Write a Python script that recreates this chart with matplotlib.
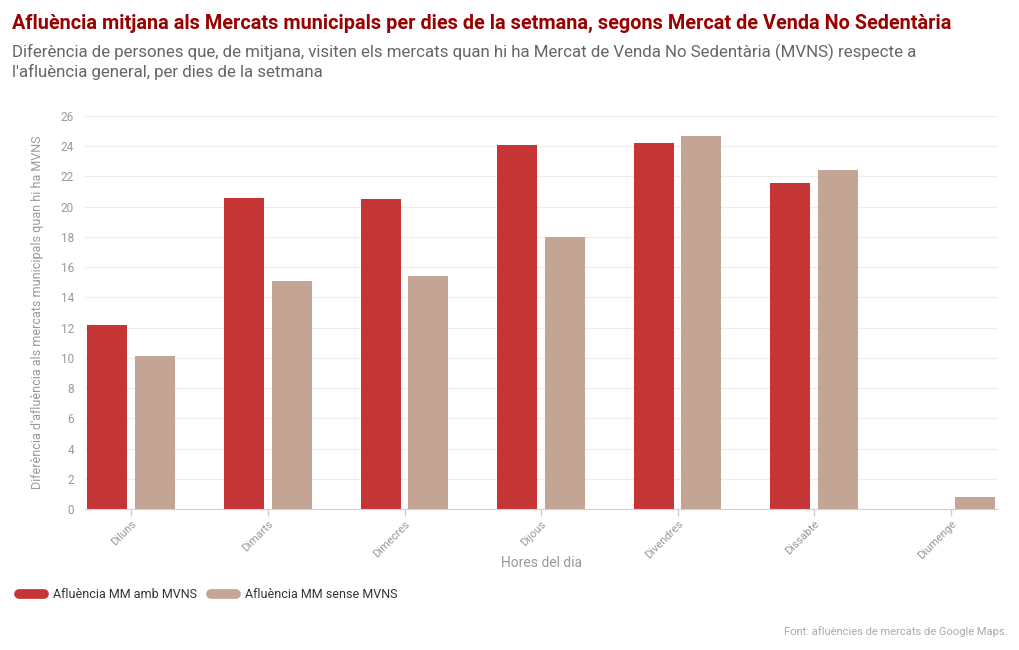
import numpy as np
import matplotlib.pyplot as plt
from matplotlib.lines import Line2D

dies = ['Diluns', 'Dimarts', 'Dimecres', 'Dijous', 'Divendres', 'Dissabte', 'Diumenge']
amb_mvns = [12.2, 20.6, 20.5, 24.1, 24.2, 21.6, 0.0]
sense_mvns = [10.1, 15.1, 15.4, 18.0, 24.7, 22.4, 0.8]

red = '#c63535'
tan = '#c3a495'

plt.rcParams['font.family'] = ['Roboto', 'DejaVu Sans']

fig = plt.figure(figsize=(10.2, 6.5), dpi=100)
ax = fig.add_axes([0.0833, 0.2169, 0.8947, 0.6046])

x = np.arange(len(dies))
w = 0.293
ax.bar(x - 0.176, amb_mvns, w, color=red)
ax.bar(x + 0.172, sense_mvns, w, color=tan)

ax.set_xlim(-0.34, 6.34)
ax.set_ylim(0, 26)
ax.set_yticks(np.arange(0, 27, 2))
ax.set_xticks(x)
ax.set_xticklabels(dies, rotation=45, ha='right', rotation_mode='anchor')
ax.tick_params(axis='x', colors='#c8d0d8', labelcolor='#999999', labelsize=8, length=5, width=1, pad=2)
ax.tick_params(axis='y', length=0, labelcolor='#999999', labelsize=8.5, pad=8)
ax.yaxis.grid(True, color='#ececec', linewidth=0.8)
ax.set_axisbelow(True)
for s in ['top', 'right', 'left']:
    ax.spines[s].set_visible(False)
ax.spines['bottom'].set_color('#ccd3db')

ax.set_xlabel('Hores del dia', color='#999999', fontsize=10, labelpad=-4)
ax.set_ylabel("Diferència d'afluència als mercats municipals quan hi ha MVNS",
              color='#999999', fontsize=9, labelpad=12)

fig.text(0.012, 0.964, 'Afluència mitjana als Mercats municipals per dies de la setmana, segons Mercat de Venda No Sedentària',
         color='#990000', fontsize=14.3, fontweight='bold', va='center')
fig.text(0.012, 0.905, "Diferència de persones que, de mitjana, visiten els mercats quan hi ha Mercat de Venda No Sedentària (MVNS) respecte a\nl'afluència general, per dies de la setmana",
         color='#666666', fontsize=12.2, va='center', linespacing=1.25)

handles = [Line2D([0], [0], color=red, lw=7, solid_capstyle='round'),
           Line2D([0], [0], color=tan, lw=7, solid_capstyle='round')]
fig.legend(handles, ['Afluència MM amb MVNS', 'Afluència MM sense MVNS'],
           loc='center left', bbox_to_anchor=(0.008, 0.085), ncol=2, frameon=False,
           fontsize=9, handlelength=2.0, columnspacing=1.1, handletextpad=0.7,
           labelcolor='#333333')

fig.text(0.988, 0.028, 'Font: afluències de mercats de Google Maps.', color='#aaaaaa',
         fontsize=8, ha='right', va='center')

fig.savefig('out.png', dpi=100)
